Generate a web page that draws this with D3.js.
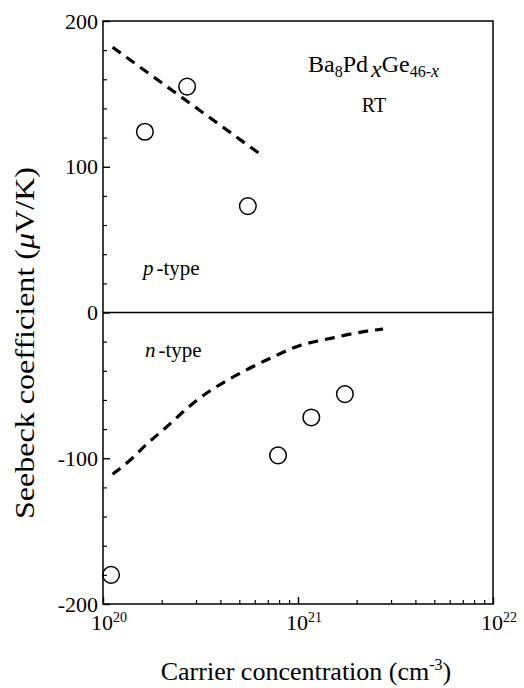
<!DOCTYPE html>
<html>
<head>
<meta charset="utf-8">
<script src="https://cdn.jsdelivr.net/npm/d3@7"></script>
<style>
  body { margin: 0; background: white; }
  text { font-family: "Liberation Serif", "DejaVu Serif", serif; fill: black; }
</style>
</head>
<body>
<svg id="chart"></svg>
<script>
let width = 524, height = 688;
let margin = {left: 103, right: 31, top: 21, bottom: 84};

// measured points
let pConc = [1.64e20, 2.7e20, 5.53e20];
let pSeebeck = [124, 155, 73];
let nConc = [1.1e20, 7.9e20, 1.17e21, 1.74e21];
let nSeebeck = [-180, -98, -72, -56];

// calculated curves (dashed)
let pCalcConc = [1.12e20, 6.5e20];
let pCalcSeebeck = [182, 108];
let nCalcConc = [1.12e20, 1.4e20, 1.67e20, 2.03e20, 2.48e20, 3.02e20, 3.6e20, 4.38e20, 5.22e20,
                 6.38e20, 7.45e20, 8.9e20, 1.02e21, 1.25e21, 1.51e21, 1.85e21, 2.26e21, 2.73e21];
let nCalcSeebeck = [-111, -101, -90, -81, -70, -60, -53, -46, -40.6,
                    -34.6, -30.5, -25.7, -22.3, -19.6, -17.5, -14.7, -12.7, -11.3];

let yMajor = [200, 100, 0, -100, -200];
let xMajor = [1e20, 1e21, 1e22];
let xExp = ["20", "21", "22"];

let svg = d3.select("#chart")
    .attr("width", width)
    .attr("height", height);

svg.append("rect").attr("width", width).attr("height", height).attr("fill", "white");

let x = d3.scaleLog()
    .domain([1e20, 1e22])
    .range([margin.left, width - margin.right]);
let y = d3.scaleLinear()
    .domain([-200, 200])
    .range([height - margin.bottom, margin.top]);

let zip = (a, b) => a.map((d, i) => [d, b[i]]);

// minor ticks
let yMinor = d3.range(-200, 201, 20).filter(d => yMajor.indexOf(d) < 0);
svg.append("g")
    .attr("transform", `translate(${margin.left},0)`)
    .call(d3.axisLeft(y).tickValues(yMinor).tickSize(-4).tickFormat(""))
    .call(g => g.select(".domain").remove())
    .selectAll("line").attr("stroke-width", 1.2);

svg.append("g")
    .attr("transform", `translate(${margin.left},0)`)
    .call(d3.axisLeft(y).tickValues(yMajor).tickSize(-7).tickPadding(5)
      .tickFormat(d => d))
    .call(g => g.select(".domain").remove())
    .call(g => g.selectAll("line").attr("stroke-width", 1.4))
    .call(g => g.selectAll("text")
      .style("font-family", "Liberation Serif")
      .style("font-size", "22px"));

let xMinor = x.ticks().filter(d => xMajor.indexOf(d) < 0);
svg.append("g")
    .attr("transform", `translate(0,${height - margin.bottom})`)
    .call(d3.axisBottom(x).tickValues(xMinor).tickSize(-4).tickFormat(""))
    .call(g => g.select(".domain").remove())
    .selectAll("line").attr("stroke-width", 1.2);

svg.append("g")
    .attr("transform", `translate(0,${height - margin.bottom})`)
    .call(d3.axisBottom(x).tickValues(xMajor).tickSize(-7).tickFormat(""))
    .call(g => g.select(".domain").remove())
    .selectAll("line").attr("stroke-width", 1.4);

// x tick labels 10^n
let xl = svg.append("g").selectAll("text")
    .data(xMajor)
    .enter()
    .append("text")
    .attr("x", d => x(d) + 6)
    .attr("y", height - margin.bottom + 26)
    .attr("text-anchor", "middle")
    .style("font-size", "22px");
xl.append("tspan").text("10");
xl.append("tspan").attr("dy", -8).style("font-size", "14px").text((d, i) => xExp[i]);

// frame and zero line
svg.append("rect")
    .attr("x", margin.left)
    .attr("y", margin.top)
    .attr("width", x.range()[1] - x.range()[0])
    .attr("height", y.range()[0] - y.range()[1])
    .attr("fill", "none")
    .attr("stroke", "black")
    .attr("stroke-width", 1.5);

svg.append("line")
    .attr("x1", x.range()[0]).attr("x2", x.range()[1])
    .attr("y1", y(0)).attr("y2", y(0))
    .attr("stroke", "black")
    .attr("stroke-width", 1.5);

// dashed calculated curves
let line = d3.line()
    .x(d => x(d[0]))
    .y(d => y(d[1]))
    .curve(d3.curveBasis);

[zip(pCalcConc, pCalcSeebeck), zip(nCalcConc, nCalcSeebeck)].forEach(data => {
  svg.append("path")
    .datum(data)
    .attr("d", line)
    .attr("fill", "none")
    .attr("stroke", "black")
    .attr("stroke-width", 3.2)
    .attr("stroke-dasharray", "10,7");
});

// measured points
svg.append("g").selectAll("circle")
    .data(zip(pConc, pSeebeck).concat(zip(nConc, nSeebeck)))
    .enter()
    .append("circle")
    .attr("cx", d => x(d[0]))
    .attr("cy", d => y(d[1]))
    .attr("r", 8.3)
    .attr("fill", "none")
    .attr("stroke", "black")
    .attr("stroke-width", 1.5);

// annotations
let title = svg.append("text")
    .attr("x", 308)
    .attr("y", 72)
    .style("font-size", "24px");
title.append("tspan").text("Ba");
title.append("tspan").attr("dy", 5).style("font-size", "16px").text("8");
title.append("tspan").attr("dy", -5).text("Pd");
title.append("tspan").attr("dy", 5).attr("dx", 3).style("font-style", "italic").text("x");
title.append("tspan").attr("dy", -5).text("Ge");
title.append("tspan").attr("dy", 5).style("font-size", "16px").text("46-");
title.append("tspan").style("font-size", "18px").style("font-style", "italic").text("x");

svg.append("text")
    .attr("x", 374)
    .attr("y", 112)
    .attr("text-anchor", "middle")
    .style("font-size", "20px")
    .text("RT");

let pt = svg.append("text")
    .attr("x", 143)
    .attr("y", 275)
    .style("font-size", "21px");
pt.append("tspan").style("font-style", "italic").text("p");
pt.append("tspan").attr("dx", 3).text("-type");

let nt = svg.append("text")
    .attr("x", 145)
    .attr("y", 357)
    .style("font-size", "21px");
nt.append("tspan").style("font-style", "italic").text("n");
nt.append("tspan").attr("dx", 3).text("-type");

// axis titles
let xt = svg.append("text")
    .attr("x", 306)
    .attr("y", 680)
    .attr("text-anchor", "middle")
    .style("font-size", "26px");
xt.append("tspan").text("Carrier concentration (cm");
xt.append("tspan").attr("dy", -10).style("font-size", "16px").text("-3");
xt.append("tspan").attr("dy", 10).text(")");

let yt = svg.append("text")
    .attr("transform", `translate(34,343) rotate(-90)`)
    .attr("text-anchor", "middle")
    .attr("textLength", 352)
    .attr("lengthAdjust", "spacingAndGlyphs")
    .style("font-size", "28px");
yt.append("tspan").text("Seebeck coefficient (");
yt.append("tspan").style("font-style", "italic").text("\u03bc");
yt.append("tspan").text("V/K)");
</script>
</body>
</html>
